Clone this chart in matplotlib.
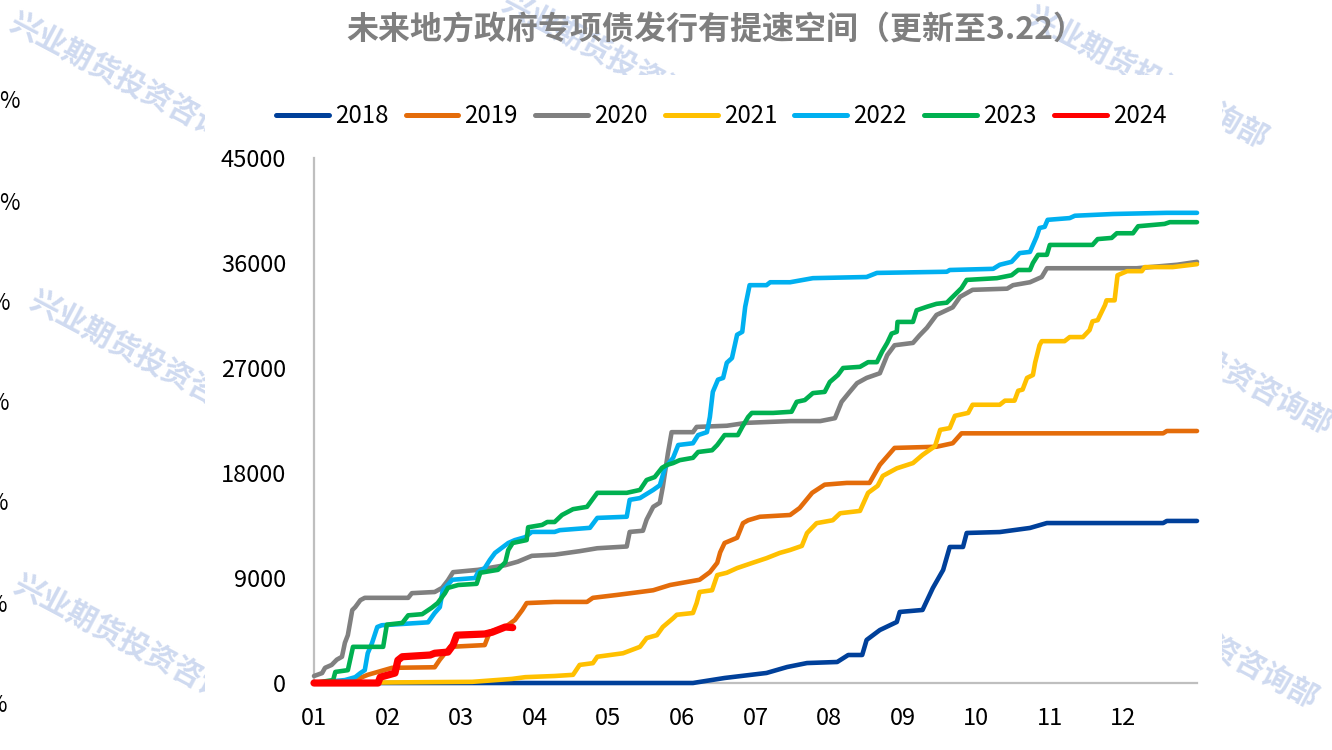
import matplotlib
matplotlib.use("Agg")
import matplotlib.pyplot as plt
from matplotlib.patches import Rectangle

plt.rcParams['font.family'] = ['Noto Sans CJK SC', 'DejaVu Sans']

title = "未来地方政府专项债发行有提速空间（更新至3.22）"
month_labels = ["01", "02", "03", "04", "05", "06", "07", "08", "09", "10", "11", "12"]
y_ticks = [0, 9000, 18000, 27000, 36000, 45000]
years = ["2018", "2019", "2020", "2021", "2022", "2023", "2024"]
colors = ["#00409A", "#E46C0A", "#808080", "#FFC000", "#00B0F0", "#00B050", "#FF0000"]
widths = [3.3, 3.3, 3.3, 3.3, 3.3, 3.3, 5.2]

# x = position in year (months since Jan 1), y = cumulative issuance
x2018 = [0, 5.15, 5.58, 6.15, 6.43, 6.70, 7.11, 7.26, 7.45, 7.51, 7.69, 7.92, 7.96, 8.27, 8.41,
         8.55, 8.64, 8.82, 8.87, 9.32, 9.73, 9.96, 11.54, 11.59, 12.0]
y2018 = [0, 0, 430, 860, 1370, 1710, 1800, 2400, 2400, 3690, 4540, 5230, 6090, 6260, 8140,
         9690, 11660, 11660, 12860, 12940, 13290, 13710, 13710, 13890, 13890]

x2019 = [0, 0.46, 0.73, 1.06, 1.64, 1.71, 1.85, 2.32, 2.39, 2.60, 2.73, 2.83, 2.89, 3.27, 3.71,
         3.79, 4.12, 4.43, 4.61, 4.84, 5.24, 5.38, 5.48, 5.52, 5.58, 5.75, 5.83, 5.90, 6.06, 6.47,
         6.60, 6.77, 6.94, 7.24, 7.55, 7.69, 7.89, 8.46, 8.68, 8.80, 11.54, 11.59, 12.0]
y2019 = [0, 0, 700, 1300, 1350, 2000, 3100, 3250, 4400, 4800, 5400, 6250, 6850, 6950, 6950,
         7300, 7550, 7800, 7950, 8400, 8850, 9500, 10300, 11200, 12000, 12450, 13700, 13950, 14250, 14400,
         15000, 16300, 17000, 17150, 17150, 18700, 20150, 20250, 20550, 21400, 21400, 21600, 21600]

x2020 = [0, 0.11, 0.15, 0.24, 0.31, 0.38, 0.42, 0.46, 0.52, 0.56, 0.63, 0.69, 1.28, 1.33, 1.64,
         1.74, 1.82, 1.89, 2.23, 2.60, 2.77, 2.96, 3.27, 3.61, 3.85, 4.25, 4.29, 4.47, 4.52, 4.61,
         4.70, 4.74, 4.81, 4.86, 5.15, 5.20, 5.61, 5.88, 6.47, 6.88, 7.08, 7.17, 7.28, 7.38, 7.51,
         7.69, 7.79, 7.89, 8.14, 8.23, 8.33, 8.46, 8.68, 8.78, 8.95, 9.42, 9.50, 9.73, 9.89, 9.96,
         11.18, 11.73, 12.0]
y2020 = [600, 850, 1300, 1550, 2000, 2250, 3450, 4100, 6250, 6500, 7100, 7300, 7300, 7700, 7800,
         8150, 8800, 9500, 9700, 10100, 10400, 10900, 11000, 11300, 11550, 11700, 12950, 13050, 14000, 15100,
         15450, 16800, 19700, 21500, 21500, 21950, 22050, 22300, 22450, 22450, 22700, 24100, 24950, 25700, 26150,
         26550, 28100, 28950, 29150, 29800, 30450, 31550, 32200, 33100, 33700, 33800, 34100, 34350, 34800, 35550,
         35550, 35850, 36100]

x2021 = [0, 2.15, 2.69, 2.87, 3.27, 3.52, 3.61, 3.79, 3.85, 4.20, 4.43, 4.52, 4.66, 4.74, 4.88,
         4.93, 5.15, 5.20, 5.24, 5.41, 5.48, 5.61, 5.75, 5.96, 6.15, 6.33, 6.47, 6.63, 6.70, 6.83,
         7.05, 7.15, 7.42, 7.53, 7.66, 7.73, 7.92, 8.14, 8.27, 8.44, 8.51, 8.64, 8.71, 8.89, 8.95,
         9.32, 9.39, 9.52, 9.57, 9.63, 9.69, 9.77, 9.80, 9.86, 9.89, 10.20, 10.27, 10.45, 10.54, 10.58,
         10.65, 10.75, 10.77, 10.88, 10.92, 11.05, 11.25, 11.29, 11.67, 12.0]
y2021 = [0, 100, 350, 500, 600, 700, 1550, 1700, 2250, 2550, 3100, 3850, 4100, 4800, 5550,
         5850, 6000, 6850, 7800, 7950, 9250, 9450, 9850, 10300, 10700, 11150, 11400, 11750, 12850, 13700,
         13950, 14550, 14750, 16300, 16900, 17750, 18400, 18850, 19550, 20300, 21700, 21850, 22900, 23150, 23850,
         23850, 24200, 24200, 25050, 25150, 26150, 26400, 27450, 28950, 29300, 29300, 29650, 29650, 30250, 31000,
         31100, 32400, 32800, 32800, 34950, 35300, 35300, 35650, 35650, 35900]

x2022 = [0, 0.42, 0.56, 0.63, 0.69, 0.73, 0.79, 0.86, 0.92, 1.55, 1.64, 1.71, 1.75, 1.88, 2.19,
         2.23, 2.32, 2.39, 2.46, 2.64, 2.73, 2.87, 2.96, 3.27, 3.34, 3.75, 3.85, 4.25, 4.29, 4.43,
         4.61, 4.70, 4.77, 4.88, 4.95, 5.15, 5.22, 5.34, 5.38, 5.42, 5.49, 5.56, 5.61, 5.68, 5.75,
         5.82, 5.86, 5.92, 6.15, 6.20, 6.47, 6.78, 7.51, 7.65, 8.60, 8.64, 9.23, 9.32, 9.48, 9.59,
         9.73, 9.82, 9.86, 9.93, 9.97, 10.27, 10.34, 10.86, 11.59, 12.0]
y2022 = [0, 250, 500, 850, 1100, 2550, 3450, 4800, 4950, 5200, 6000, 6500, 7950, 8850, 9000,
         9500, 9850, 10550, 11150, 12000, 12250, 12500, 12950, 12950, 13100, 13300, 14150, 14250, 15700, 15850,
         16550, 16950, 18450, 19300, 20400, 20550, 21250, 21500, 22800, 24950, 26000, 26150, 27450, 27850, 29850,
         30100, 32250, 34100, 34100, 34350, 34350, 34700, 34800, 35150, 35250, 35400, 35500, 35850, 36100, 36850,
         36950, 38250, 39000, 39100, 39700, 39850, 40050, 40200, 40300, 40300]

x2023 = [0, 0.26, 0.29, 0.46, 0.53, 0.94, 0.99, 1.20, 1.28, 1.47, 1.60, 1.68, 1.78, 1.82, 1.96,
         2.21, 2.26, 2.50, 2.60, 2.64, 2.70, 2.89, 2.91, 3.10, 3.17, 3.27, 3.37, 3.52, 3.71, 3.85,
         4.25, 4.43, 4.52, 4.63, 4.73, 4.80, 4.88, 4.97, 5.15, 5.22, 5.41, 5.48, 5.58, 5.76, 5.82,
         5.90, 5.95, 6.24, 6.49, 6.56, 6.67, 6.78, 6.94, 7.01, 7.12, 7.19, 7.42, 7.53, 7.65, 7.72,
         7.79, 7.85, 7.92, 7.93, 8.14, 8.19, 8.33, 8.46, 8.60, 8.68, 8.80, 8.87, 9.28, 9.48, 9.57,
         9.73, 9.77, 9.84, 9.96, 10.00, 10.58, 10.65, 10.84, 10.91, 11.13, 11.20, 11.56, 11.63, 12.0]
y2023 = [0, 250, 950, 1100, 3100, 3100, 5000, 5150, 5800, 5900, 6450, 6850, 7700, 8150, 8400,
         8500, 9450, 9700, 10350, 11400, 12000, 12250, 13350, 13550, 13800, 13800, 14400, 14900, 15100, 16300,
         16300, 16550, 17400, 17650, 18450, 18700, 18850, 19100, 19300, 19800, 19950, 20400, 21250, 21250, 21950,
         22800, 23150, 23150, 23250, 24100, 24250, 24850, 24950, 25800, 26400, 27000, 27100, 27500, 27500, 28400,
         29150, 29950, 30100, 30950, 30950, 31950, 32250, 32500, 32600, 33100, 33850, 34550, 34700, 34950, 35400,
         35400, 36000, 36700, 36700, 37550, 37550, 38050, 38150, 38550, 38550, 39150, 39350, 39500, 39500]

x2024 = [0, 0.87, 0.90, 1.10, 1.14, 1.20, 1.58, 1.64, 1.82, 1.89, 1.94, 2.32, 2.42, 2.50, 2.60, 2.70]
y2024 = [0, 0, 500, 850, 1950, 2250, 2400, 2550, 2650, 3250, 4100, 4200, 4350, 4550, 4800, 4750]

series_x = [x2018, x2019, x2020, x2021, x2022, x2023, x2024]
series_y = [y2018, y2019, y2020, y2021, y2022, y2023, y2024]

W, H = 1332, 750
fig = plt.figure(figsize=(W / 100, H / 100), dpi=100)
fig.patch.set_facecolor("white")

# watermarks (behind the chart panel)
wm_text = "兴业期货投资咨询部"
wm_pos = [(18, 8), (38, 286), (22, 570), (510, -12), (1035, 2), (1100, 288), (1085, 562)]
for (px, py) in wm_pos:
    fig.text(px / W, 1 - py / H, wm_text, rotation=-28, rotation_mode="anchor",
             ha="left", va="top", fontsize=21.5, fontweight="bold", color="#CFDAF0", zorder=0)

# opaque chart panel covering the watermarks
fig.patches.append(Rectangle((205 / W, 0), (1222 - 205) / W, (750 - 75) / H,
                             transform=fig.transFigure, facecolor="white",
                             edgecolor="none", zorder=1))

# cut-off labels from a neighbouring chart on the left edge
pct_rows = [(20, 102), (20, 203), (10, 303), (9, 403), (8, 503), (7, 605), (7, 705)]
for (px, py) in pct_rows:
    fig.text(px / W, 1 - py / H, "%", ha="right", va="center", fontsize=16,
             color="black", zorder=2)

ax = fig.add_axes([314 / W, (H - 683) / H, (1197 - 314) / W, 525 / H])
ax.set_zorder(3)
ax.patch.set_alpha(0)

for yr, xs, ys, c, lw in zip(years, series_x, series_y, colors, widths):
    ax.plot(xs, ys, color=c, lw=lw, label=yr, solid_capstyle="round",
            solid_joinstyle="round", clip_on=False, zorder=3)

ax.set_xlim(0, 12)
ax.set_ylim(0, 45000)
ax.set_xticks(range(12))
ax.set_xticklabels(month_labels)
ax.set_yticks(y_ticks)
ax.set_yticklabels([str(v) for v in y_ticks])
ax.tick_params(axis="both", length=0, labelsize=17, colors="black")
ax.tick_params(axis="y", pad=20)
ax.tick_params(axis="x", pad=17)
for s in ["top", "right"]:
    ax.spines[s].set_visible(False)
for s in ["left", "bottom"]:
    ax.spines[s].set_color("#BFBFBF")
    ax.spines[s].set_linewidth(1.6)

leg = fig.legend(loc="center", bbox_to_anchor=(721 / W, 1 - 116 / H), ncol=7,
                 frameon=False, fontsize=17.3, handlelength=2.2, handletextpad=0.25,
                 columnspacing=0.72)
for line in leg.get_lines():
    line.set_linewidth(3.6)
    line.set_solid_capstyle("round")
leg.set_zorder(4)

fig.text(716 / W, 1 - 31 / H, title, ha="center", va="center", fontsize=23,
         fontweight="bold", color="#7F7F7F", zorder=5)

fig.savefig("out.png", dpi=100, facecolor="white")
